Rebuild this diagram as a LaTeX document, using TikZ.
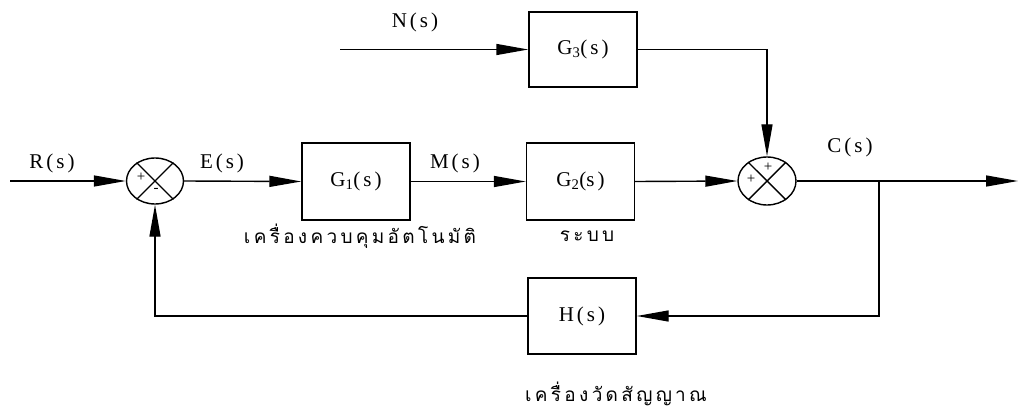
\documentclass[tikz,border=0pt]{standalone}
\usepackage{fontspec}
\setmainfont{Liberation Serif}
\newfontfamily\thaifont[Script=Thai]{Loma}
\usetikzlibrary{arrows.meta,shapes.geometric}
\newcommand\tsp{\hspace{3.3pt}}
\newcommand\lsp{\hspace{3pt}}
\begin{document}
\begin{tikzpicture}[x=1pt,y=-1pt,line width=1.4pt,
  blk/.style={draw,rectangle,minimum width=108pt,minimum height=77pt,inner sep=0pt,
    font=\fontsize{21}{24}\selectfont},
  sumj/.style={draw,ellipse,minimum width=57pt,minimum height=46pt,inner sep=0pt},
  arr/.style={-{Triangle[length=32pt,width=11pt]}},
  lbl/.style={font=\fontsize{21}{24}\selectfont,inner sep=0pt},
  sgn/.style={font=\fontsize{15}{15}\selectfont,inner sep=0pt},
  thai/.style={font=\fontsize{19}{22}\thaifont,inner sep=0pt}]
\useasboundingbox (0,0) rectangle (1019,409);

\node[sumj] (s1) at (155,181) {};
\node[blk] (g1) at (356,181.5) {G\textsubscript{1}(\lsp s\lsp)};
\node[blk] (g2) at (580.5,181.5) {G\textsubscript{2}(s\lsp)};
\node[blk,minimum height=75pt] (g3) at (583,49.5) {G\textsubscript{3}(\lsp s\lsp)};
\node[blk,minimum height=76pt] (h) at (582,316) {H\lsp(\lsp s\lsp)};
\node[sumj,minimum width=58pt,minimum height=48pt] (s2) at (767,181) {};

\draw (s1.45) -- (s1.225) (s1.135) -- (s1.315);
\draw (s2.45) -- (s2.225) (s2.135) -- (s2.315);
\node[sgn] (p1) at (141,177) {+};
\node[sgn] (m1) at (156,190) {-};
\node[sgn] (p2) at (768,167) {+};
\node[sgn] (p3) at (751,179) {+};

\coordinate (rin) at (10,181);
\coordinate (nin) at (340,49.5);
\coordinate (cout) at (1018,181);
\coordinate (br) at (879,181);

\node[lbl] (lr) at (52,163) {R\lsp(\lsp s\lsp)};
\node[lbl] (le) at (222,163) {E\lsp(\lsp s\lsp)};
\node[lbl] (lm) at (455,163) {M\lsp(\lsp s\lsp)};
\node[lbl] (ln) at (415,22) {N\lsp(\lsp s\lsp)};
\node[lbl] (lc) at (850,147) {C\lsp(\lsp s\lsp)};

\node[thai] (t1) at (360,236) {เ\tsp ค\tsp รื่\tsp อ\tsp ง\tsp ค\tsp ว\tsp บ\tsp คุ\tsp ม\tsp อั\tsp ต\tsp โ\tsp น\tsp มั\tsp ติ};
\node[thai] (t2) at (587,236) {ร\tsp ะ\tsp บ\tsp บ};
\node[thai] (t3) at (616,394) {เ\tsp ค\tsp รื่\tsp อ\tsp ง\tsp วั\tsp ด\tsp สั\tsp ญ\tsp ญ\tsp า\tsp ณ};

\draw[arr] (rin) -- (s1.west);
\draw[arr] (s1.east) -- (g1.west);
\draw[arr] (g1.east) -- (g2.west);
\draw[arr] (g2.east) -- (s2.west);
\draw[arr] (s2.east) -- (cout);
\draw[arr] (br) |- (h.east);
\draw[arr] (h.west) -| (s1.south);
\draw[arr] (nin) -- (g3.west);
\draw[arr] (g3.east) -| (s2.north);
\end{tikzpicture}
\end{document}
